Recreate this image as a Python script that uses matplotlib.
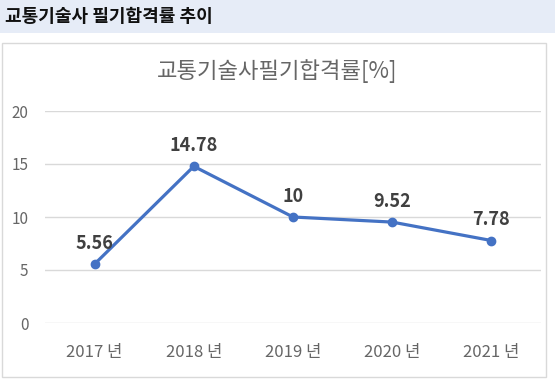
import matplotlib
matplotlib.use("Agg")
import matplotlib.pyplot as plt
from matplotlib.patches import Rectangle

plt.rcParams['font.family'] = ['Noto Sans CJK KR', 'DejaVu Sans']

years = ['2017 년', '2018 년', '2019 년', '2020 년', '2021 년']
rates = [5.56, 14.78, 10, 9.52, 7.78]
rate_labels = ['5.56', '14.78', '10', '9.52', '7.78']
y_ticks = [0, 5, 10, 15, 20]

W, H = 555, 383
fig = plt.figure(figsize=(W / 100, H / 100), dpi=100)

# header band
fig.patches.append(Rectangle((0, 1 - 33 / H), 1, 33 / H, transform=fig.transFigure,
                             facecolor='#E6ECF7', edgecolor='none', zorder=-2))
fig.text(5 / W, 1 - 17 / H, '교통기술사 필기합격률 추이', fontsize=13, fontweight='bold',
         color='#111111', ha='left', va='center')

# chart frame
fig.patches.append(Rectangle((2 / W, 1 - 377 / H), 544 / W, 334 / H, transform=fig.transFigure,
                             facecolor='none', edgecolor='#D9D9D9', linewidth=1, zorder=-1))
fig.text(277 / W, 1 - 71 / H, '교통기술사필기합격률[%]', fontsize=16, color='#666666',
         ha='center', va='center')

ax = fig.add_axes([45 / W, 1 - 323 / H, 496 / W, 212 / H])
ax.set_facecolor('none')
x = range(len(years))
ax.plot(x, rates, color='#4472C4', linewidth=2.3, marker='o', markersize=6, zorder=3)
for xi, v, lab in zip(x, rates, rate_labels):
    ax.annotate(lab, (xi, v), xytext=(0, 8), textcoords='offset points', ha='center',
                va='bottom', fontsize=13, fontweight='bold', color='#404040')

ax.set_xlim(-0.5, len(years) - 0.5)
ax.set_ylim(0, 20)
ax.set_yticks(y_ticks)
ax.set_xticks(list(x))
ax.set_xticklabels(years)
ax.grid(axis='y', color='#D9D9D9', linewidth=1)
ax.set_axisbelow(True)
for s in ax.spines.values():
    s.set_visible(False)
ax.tick_params(length=0, labelcolor='#666666')
ax.tick_params(axis='x', pad=15, labelsize=12)
ax.tick_params(axis='y', pad=12, labelsize=11)

fig.savefig('out.png', dpi=100)
